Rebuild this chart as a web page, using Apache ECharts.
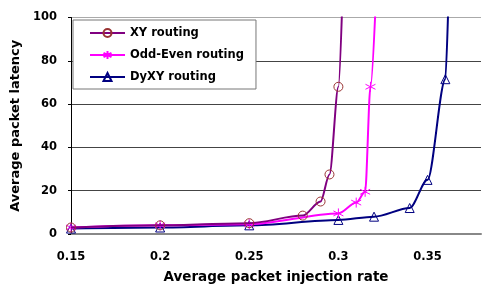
<!DOCTYPE html>
<html>
<head>
<meta charset="utf-8">
<script src="https://cdn.jsdelivr.net/npm/echarts@6/dist/echarts.min.js"></script>
<style>
  html, body { margin: 0; padding: 0; background: #fff; }
  #chart { width: 484px; height: 289px; }
</style>
</head>
<body>
<div id="chart"></div>
<script>
// injection rate / latency
const xyRate = [0.15, 0.2, 0.25, 0.28, 0.29, 0.295, 0.3, 0.3023];
const xyLatency = [3, 4, 5, 8.5, 15, 27.5, 68, 110];
const oddEvenRate = [0.15, 0.2, 0.25, 0.3, 0.31, 0.315, 0.318, 0.3211];
const oddEvenLatency = [3, 4, 4.5, 9.5, 14.5, 19.5, 68, 110];
const dyxyRate = [0.15, 0.2, 0.25, 0.3, 0.32, 0.34, 0.35, 0.36, 0.3618];
const dyxyLatency = [2.5, 3, 4, 6.5, 8, 12, 25, 71.5, 110];
const seriesNames = ['XY routing', 'Odd-Even routing', 'DyXY routing'];

const font = 'DejaVu Sans';
const star = 'path://M0,-5L0,5M-4.33,-2.5L4.33,2.5M-4.33,2.5L4.33,-2.5';

// last point of each curve leaves the top of the plot, no marker there
function pairs(xs, ys) {
  return xs.map((x, i) => {
    if (i === xs.length - 1) return { value: [x, ys[i]], symbol: 'none' };
    return [x, ys[i]];
  });
}

const myEChart = echarts.init(document.getElementById('chart'));
const option = {
  animation: false,
  grid: {
    left: 71,
    right: -3,
    top: 17.5,
    bottom: 52
  },
  legend: {
    orient: 'vertical',
    left: 73,
    top: 20,
    padding: [7, 12, 6, 16],
    itemWidth: 35,
    itemHeight: 10,
    itemGap: 10,
    backgroundColor: '#fff',
    borderColor: '#777',
    borderWidth: 1,
    data: seriesNames,
    textStyle: {
      fontFamily: font,
      fontWeight: 'bold',
      fontSize: 11.5,
      color: '#000'
    }
  },
  xAxis: {
    type: 'value',
    min: 0.15,
    max: 0.38,
    interval: 0.05,
    name: 'Average packet injection rate',
    nameLocation: 'middle',
    nameGap: 36,
    nameTextStyle: {
      fontFamily: font,
      fontWeight: 'bold',
      fontSize: 13.5,
      color: '#000'
    },
    axisLine: { lineStyle: { color: '#888', width: 2 } },
    axisTick: { show: false },
    splitLine: { show: false },
    axisLabel: {
      margin: 17,
      fontFamily: font,
      fontWeight: 'bold',
      fontSize: 11.5,
      color: '#000',
      formatter: function (v) {
        if (v > 0.375) return '';
        return String(+v.toFixed(2));
      }
    }
  },
  yAxis: {
    type: 'value',
    min: 0,
    max: 100,
    interval: 20,
    name: 'Average packet latency',
    nameLocation: 'middle',
    nameGap: 46,
    nameTextStyle: {
      fontFamily: font,
      fontWeight: 'bold',
      fontSize: 13,
      color: '#000'
    },
    axisLine: { show: true, lineStyle: { color: '#000', width: 1 } },
    axisTick: { show: true, length: 3, lineStyle: { color: '#000' } },
    splitLine: {
      show: true,
      lineStyle: {
        color: ['#888', '#444', '#444', '#444', '#444', '#aaa'],
        width: 1
      }
    },
    axisLabel: {
      margin: 14,
      fontFamily: font,
      fontWeight: 'bold',
      fontSize: 11.5,
      color: '#000'
    }
  },
  series: [
    {
      name: seriesNames[0],
      type: 'line',
      data: pairs(xyRate, xyLatency),
      smooth: 0.3,
      smoothMonotone: 'x',
      symbol: 'circle',
      symbolSize: 9,
      lineStyle: { color: '#800080', width: 2 },
      itemStyle: { color: 'rgba(0,0,0,0)', borderColor: '#993333', borderWidth: 1 },
      z: 3
    },
    {
      name: seriesNames[1],
      type: 'line',
      data: pairs(oddEvenRate, oddEvenLatency),
      smooth: 0.3,
      smoothMonotone: 'x',
      symbol: star,
      symbolSize: 10,
      lineStyle: { color: '#ff00ff', width: 2 },
      itemStyle: { color: 'rgba(0,0,0,0)', borderColor: '#ff00ff', borderWidth: 1 },
      z: 2
    },
    {
      name: seriesNames[2],
      type: 'line',
      data: pairs(dyxyRate, dyxyLatency),
      smooth: 0.3,
      smoothMonotone: 'x',
      symbol: 'triangle',
      symbolSize: 9,
      lineStyle: { color: '#000080', width: 2 },
      itemStyle: { color: 'rgba(0,0,0,0)', borderColor: '#000080', borderWidth: 1 },
      z: 1
    }
  ]
};
myEChart.setOption(option);
</script>
</body>
</html>
